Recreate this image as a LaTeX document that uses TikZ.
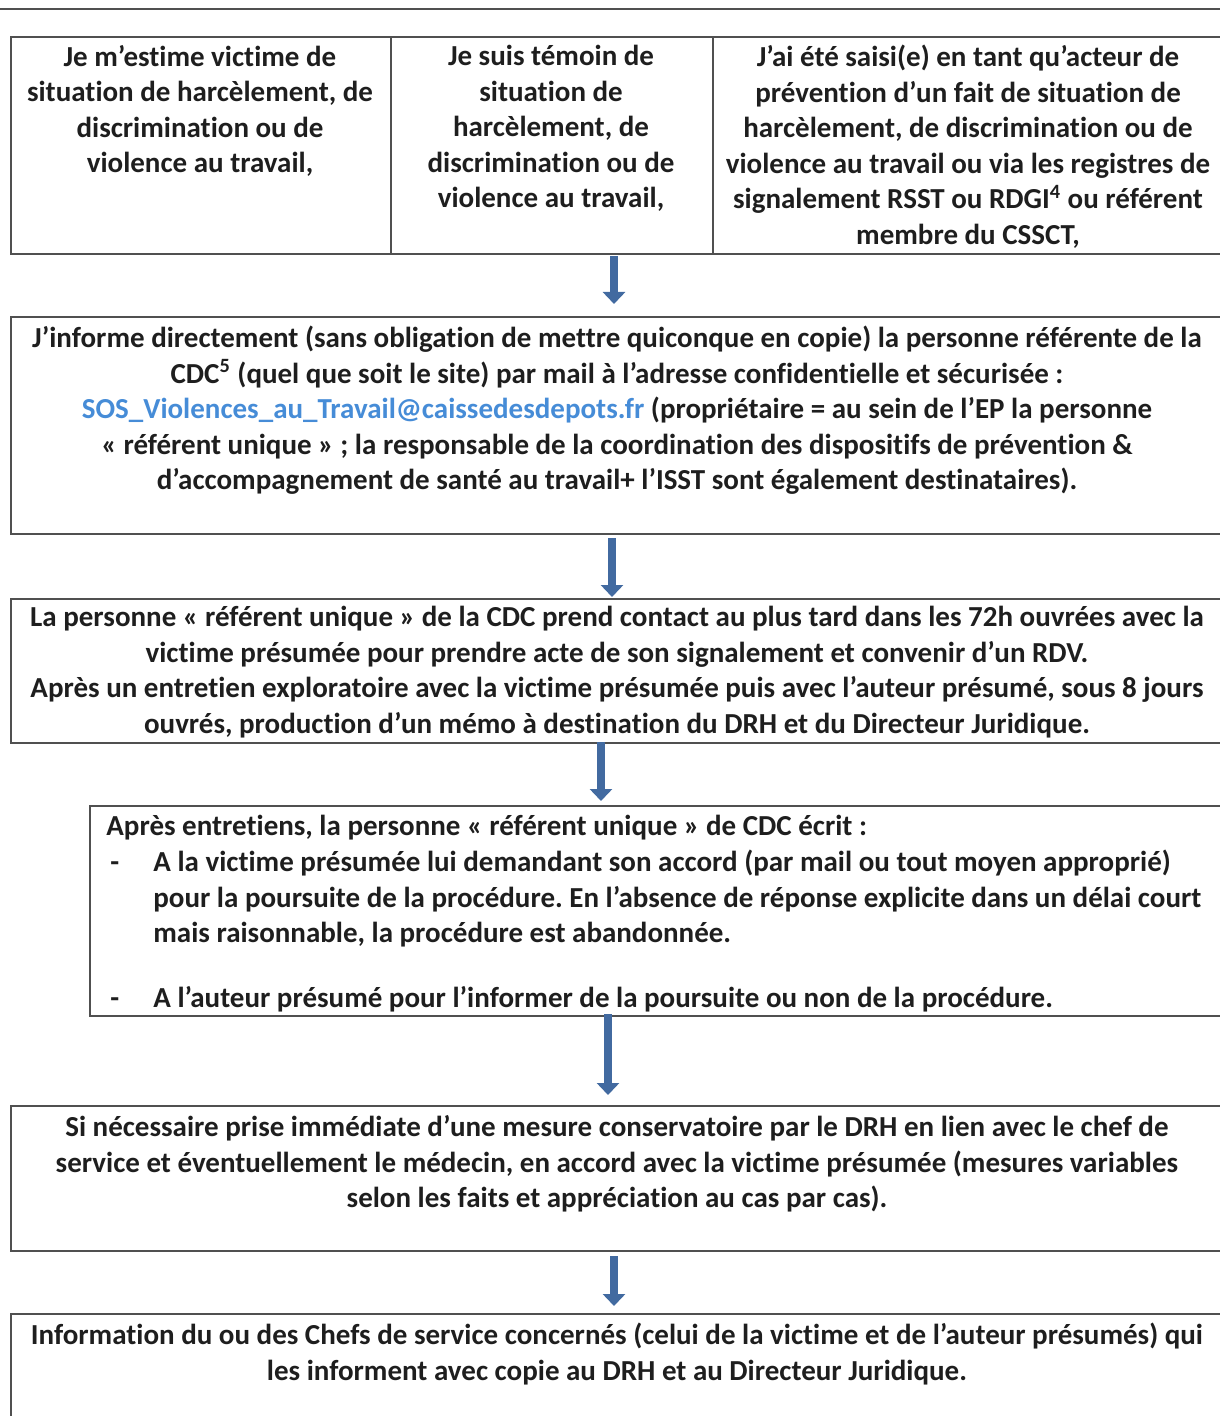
\documentclass[tikz,border=0pt]{standalone}
\usepackage{fontspec}
\setmainfont{Carlito}[Ligatures=NoCommon]
\usetikzlibrary{arrows.meta}
\definecolor{txt}{RGB}{30,30,30}
\definecolor{edge}{RGB}{80,80,80}
\definecolor{arrowblue}{RGB}{66,106,160}
\definecolor{linkblue}{RGB}{70,140,215}
\frenchspacing
\begin{document}
\begin{tikzpicture}[x=0.5pt,y=-0.5pt,
  box/.style={draw=edge,line width=1pt,inner sep=0pt,anchor=north west},
  lbl/.style={inner sep=0pt,anchor=north,align=center,font=\bfseries\fontsize{14.5}{17.75}\selectfont,text=txt},
  lbll/.style={lbl,anchor=north west,align=left},
  arr/.style={draw=arrowblue,line width=4pt,-{Triangle[length=6pt 0 0,width=11pt 0 0]}}]
\useasboundingbox (0,0) rectangle (1219,1416);
% top rule
\coordinate (topL) at (-5,9);
\coordinate (topR) at (1230,9);
\draw[edge,line width=1pt] (topL) -- (topR);
% top row cells
\node[box,minimum width=190pt,minimum height=108.5pt] (c1) at (10,36) {};
\node[box,minimum width=161pt,minimum height=108.5pt] (c2) at (390,36) {};
\node[box,minimum width=259pt,minimum height=108.5pt] (c3) at (712,36) {};
\node[lbl] (t1) at (200,45) {Je m’estime victime de\\situation de harcèlement, de\\discrimination ou de\\violence au travail,};
\node[lbl] (t2) at (551,45) {Je suis témoin de\\situation de\\harcèlement, de\\discrimination ou de\\violence au travail,};
\node[lbl] (t3) at (968,45) {J’ai été saisi(e) en tant qu’acteur de\\prévention d’un fait de situation de\\harcèlement, de discrimination ou de\\violence au travail ou via les registres de\\signalement RSST ou RDGI\textsuperscript{4} ou référent\\membre du CSSCT,};
% box 2
\node[box,minimum width=610pt,minimum height=108.5pt] (b2) at (10,316) {};
\node[lbl] (t4) at (617,326) {J’informe directement (sans obligation de mettre quiconque en copie) la personne référente de la\\CDC\textsuperscript{5} (quel que soit le site) par mail à l’adresse confidentielle et sécurisée :\\\textcolor{linkblue}{SOS\_Violences\_au\_Travail@caissedesdepots.fr} (propriétaire = au sein de l’EP la personne\\«~référent unique~» ; la responsable de la coordination des dispositifs de prévention \&\\d’accompagnement de santé au travail+ l’ISST sont également destinataires).};
% box 3
\node[box,minimum width=610pt,minimum height=72pt] (b3) at (10,598) {};
\node[lbl] (t5) at (617,606) {La personne «~référent unique~» de la CDC prend contact au plus tard dans les 72h ouvrées avec la\\victime présumée pour prendre acte de son signalement et convenir d’un RDV.\\Après un entretien exploratoire avec la victime présumée puis avec l’auteur présumé, sous 8 jours\\ouvrés, production d’un mémo à destination du DRH et du Directeur Juridique.};
% box 4
\node[box,minimum width=570.5pt,minimum height=105pt] (b4) at (89,805) {};
\node[lbll] (t6) at (106,815) {Après entretiens, la personne «~référent unique~» de CDC écrit :};
\node[lbll] (d1) at (110,850) {\vphantom{(l}-};
\node[lbll] (t7) at (153,850) {A la victime présumée lui demandant son accord (par mail ou tout moyen approprié)\\pour la poursuite de la procédure. En l’absence de réponse explicite dans un délai court\\mais raisonnable, la procédure est abandonnée.};
\node[lbll] (d2) at (110,986) {\vphantom{(l}-};
\node[lbll] (t8) at (153,986) {\vphantom{(}A l’auteur présumé pour l’informer de la poursuite ou non de la procédure.};
% box 5
\node[box,minimum width=610pt,minimum height=72.5pt] (b5) at (10,1105) {};
\node[lbl] (t9) at (617,1115) {Si nécessaire prise immédiate d’une mesure conservatoire par le DRH en lien avec le chef de\\service et éventuellement le médecin, en accord avec la victime présumée (mesures variables\\selon les faits et appréciation au cas par cas).};
% box 6
\node[box,minimum width=610pt,minimum height=58.5pt] (b6) at (10,1313) {};
\node[lbl] (t10) at (617,1323) {Information du ou des Chefs de service concernés (celui de la victime et de l’auteur présumés) qui\\les informent avec copie au DRH et au Directeur Juridique.};
% arrows
\coordinate (a1s) at (614,256); \coordinate (a1e) at (614,304);
\coordinate (a2s) at (612,538); \coordinate (a2e) at (612,597);
\coordinate (a3s) at (601,742); \coordinate (a3e) at (601,801);
\coordinate (a4s) at (608,1014); \coordinate (a4e) at (608,1095);
\coordinate (a5s) at (614,1256); \coordinate (a5e) at (614,1306);
\draw[arr] (a1s) -- (a1e);
\draw[arr] (a2s) -- (a2e);
\draw[arr] (a3s) -- (a3e);
\draw[arr] (a4s) -- (a4e);
\draw[arr] (a5s) -- (a5e);
\end{tikzpicture}
\end{document}
